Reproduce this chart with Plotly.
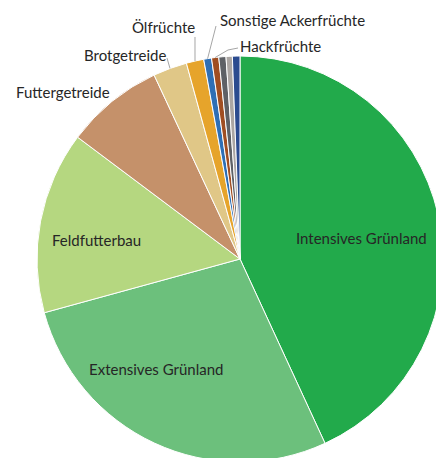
import math
import plotly.graph_objects as go

# ---- data ----
labels = ["Intensives Grünland", "Extensives Grünland", "Feldfutterbau",
          "Futtergetreide", "Brotgetreide", "Ölfrüchte",
          "Sonstige Ackerfrüchte", "Hackfrüchte", "Gemüse", "Obst", "Reben"]
values = [43.1, 27.6, 14.5, 7.8, 2.7, 1.39, 0.62, 0.57, 0.57, 0.50, 0.60]
colors = ["#22AA4B", "#6CC07C", "#B5D780", "#C5916A", "#E0C787", "#E6A42B",
          "#2E6FB5", "#A04E22", "#5E6166", "#ABA6A3", "#2B4B8F"]
shown_labels = ["Intensives Grünland", "Extensives Grünland", "Feldfutterbau",
                "Futtergetreide", "Brotgetreide", "Ölfrüchte",
                "Sonstige Ackerfrüchte", "Hackfrüchte"]

# ---- layout geometry (pixels within the figure) ----
W, H = 450, 470
CX, CY, R = 240, 259, 203
dom_x = [(CX - R) / W, (CX + R) / W]
dom_y = [(H - CY - R) / H, (H - CY + R) / H]

# label centres (figure pixels)
label_pos = {
    "Intensives Grünland": (361, 238),
    "Extensives Grünland": (156, 369),
    "Feldfutterbau": (96, 240),
    "Futtergetreide": (63, 92),
    "Brotgetreide": (125, 55),
    "Ölfrüchte": (163, 27),
    "Sonstige Ackerfrüchte": (292, 20),
    "Hackfrüchte": (280, 46),
}
# leader-line start points (figure pixels) and optional elbows
leader_start = {
    "Brotgetreide": [(167, 58)],
    "Ölfrüchte": [(195, 37)],
    "Sonstige Ackerfrüchte": [(216, 26)],
    "Hackfrüchte": [(238, 48), (228, 50)],
}


def px(x, y):
    return x / W, 1 - y / H


def slice_tip(name):
    total = sum(values)
    cum = 0.0
    for lab, v in zip(labels, values):
        if lab == name:
            mid = (cum + v / 2) / total * 2 * math.pi
            return CX + R * math.sin(mid), CY - R * math.cos(mid)
        cum += v
    return None


fig = go.Figure(go.Pie(
    labels=labels, values=values, sort=False, direction="clockwise",
    rotation=0, domain=dict(x=dom_x, y=dom_y),
    marker=dict(colors=colors, line=dict(color="white", width=1)),
    textinfo="none", hoverinfo="label+percent",
))

font = dict(family="Lato, Open Sans, sans-serif", size=15, color="#262626")
annotations = []
for name in shown_labels:
    x, y = px(*label_pos[name])
    annotations.append(dict(x=x, y=y, xref="paper", yref="paper", text=name,
                            showarrow=False, xanchor="center", yanchor="middle",
                            font=font))

shapes = []
for name, pts in leader_start.items():
    tip = slice_tip(name)
    allpts = pts + [tip]
    path = "M " + " L ".join(f"{px(a, b)[0]:.5f},{px(a, b)[1]:.5f}" for a, b in allpts)
    shapes.append(dict(type="path", path=path, xref="paper", yref="paper",
                       line=dict(color="#A6A6A6", width=1)))

fig.update_layout(width=W, height=H, margin=dict(l=0, r=0, t=0, b=0),
                  paper_bgcolor="white", plot_bgcolor="white",
                  showlegend=False, annotations=annotations, shapes=shapes)
fig.write_html("out.html", config={"displayModeBar": False},
               post_script="document.body.style.margin='0';document.body.style.overflow='hidden';")
